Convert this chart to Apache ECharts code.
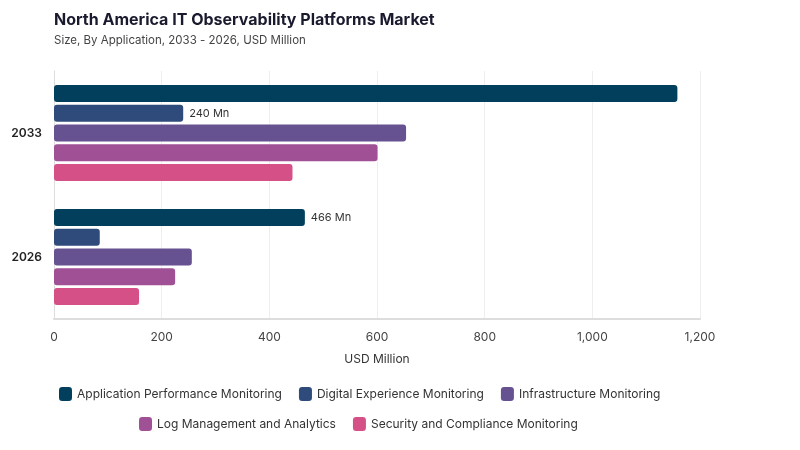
<!DOCTYPE html>
<html><head><meta charset="utf-8">
<script src="https://cdn.jsdelivr.net/npm/echarts@6/dist/echarts.min.js"></script>
<style>html,body{margin:0;padding:0;background:#fff}#c{width:800px;height:450px}</style>
</head><body><div id="c"></div>
<script>
const categories = ['2033', '2026'];
const seriesNames = ['Application Performance Monitoring','Digital Experience Monitoring','Infrastructure Monitoring','Log Management and Analytics','Security and Compliance Monitoring'];
const apm = [1158, 466];
const dem = [240, 85];
const infra = [654, 256];
const logm = [601, 225];
const sec = [443, 158];
const xTicks = [0, 200, 400, 600, 800, 1000, 1200];
const colors = ['#023f5c','#2f4b7c','#665191','#a05195','#d45087'];
const labelShown = [[false,true],[true,false],[false,false],[false,false],[false,false]];
const values = [apm, dem, infra, logm, sec];
const font = 'Inter, "Noto Sans", sans-serif';

const chart = echarts.init(document.getElementById('c'), null, {renderer:'canvas'});
const series = values.map((vals, i) => ({
  name: seriesNames[i], type: 'bar', barWidth: 17, barGap: '16%',
  itemStyle: {color: colors[i], borderRadius: 3},
  data: vals.map((v, j) => ({
    value: v,
    label: {show: labelShown[j][i], position: 'right', formatter: '{c} Mn', color: '#333', fontSize: 11, fontFamily: font, distance: 6}
  }))
}));
chart.setOption({
  animation: false,
  color: colors,
  title: [
    {text: 'North America IT Observability Platforms Market', left: 54, top: 12, padding: 0, textStyle: {fontSize: 16, fontWeight: 'bold', color: '#1a1a2e', fontFamily: font}},
    {text: 'Size, By Application, 2033 - 2026, USD Million', left: 54, top: 35, padding: 0, textStyle: {fontSize: 11.5, fontWeight: 'normal', color: '#444', fontFamily: font}}
  ],
  legend: [
    {data: seriesNames.slice(0,3), top: 382, left: 54, itemWidth: 13, itemHeight: 14, itemGap: 17, icon: 'roundRect', textStyle: {fontSize: 12, color: '#333', fontFamily: font}},
    {data: seriesNames.slice(3), top: 412, left: 134, itemWidth: 13, itemHeight: 14, itemGap: 17, icon: 'roundRect', textStyle: {fontSize: 12, color: '#333', fontFamily: font}}
  ],
  grid: {left: 54, right: 100, top: 71, bottom: 131, containLabel: false},
  xAxis: {
    type: 'value', min: 0, max: 1200, interval: 200,
    name: 'USD Million', nameLocation: 'middle', nameGap: 34,
    nameTextStyle: {fontSize: 12, color: '#333', fontFamily: font},
    axisLine: {show: true, lineStyle: {color: '#ddd', width: 2}},
    axisTick: {show: false},
    axisLabel: {color: '#444', fontSize: 12, fontFamily: font, margin: 12,
      formatter: v => xTicks.includes(v) ? v.toLocaleString('en-US') : ''},
    splitLine: {show: true, lineStyle: {color: '#eee'}}
  },
  yAxis: {
    type: 'category', data: categories, inverse: true,
    axisLine: {show: true, lineStyle: {color: '#ddd', width: 1}},
    axisTick: {show: false},
    axisLabel: {color: '#222', fontSize: 12, fontWeight: 600, fontFamily: font, margin: 12}
  },
  series: series
});
</script></body></html>
